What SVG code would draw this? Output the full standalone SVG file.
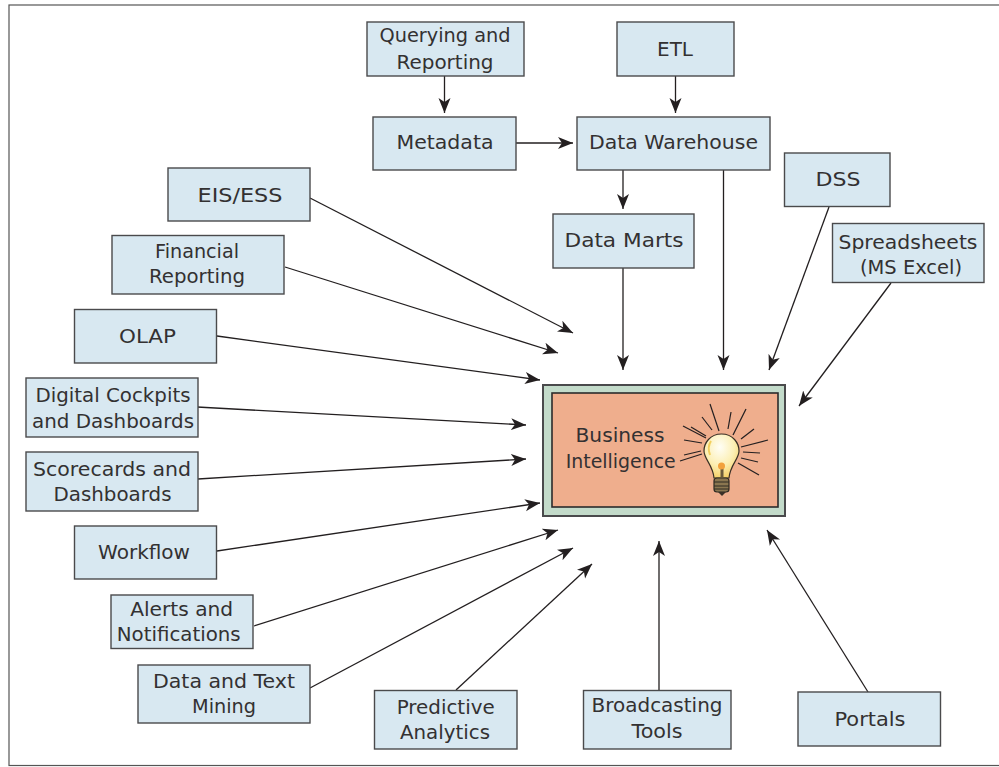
<svg xmlns="http://www.w3.org/2000/svg" width="999" height="767" viewBox="0 0 999 767">
<defs>
<marker id="a" markerUnits="userSpaceOnUse" markerWidth="16" markerHeight="14" refX="15" refY="7" orient="auto"><path d="M0 1L15 7L0 13L4 7Z" fill="#231f20"/></marker>
<radialGradient id="b" cx="0.45" cy="0.3" r="0.75"><stop offset="0" stop-color="#fffef6"/><stop offset="0.55" stop-color="#fcefb4"/><stop offset="1" stop-color="#f4cc5c"/></radialGradient>
</defs>
<style>
.n{fill:#d8e8f1;stroke:#4a4a4c;stroke-width:1.4}
text{font-family:"DejaVu Sans",sans-serif;font-size:20px;fill:#333132;text-anchor:middle}
.c line{stroke:#231f20;stroke-width:1.3;marker-end:url(#a)}
.r line{stroke:#231f20;stroke-width:1.2}
</style>
<rect x="9" y="5" width="996" height="760.500" fill="#fff" stroke="#555" stroke-width="1.2"/>
<g id="connectors" class="c">
<line x1="444.500" y1="76" x2="444.500" y2="113"/>
<line x1="675.500" y1="76" x2="675.500" y2="113"/>
<line x1="516" y1="143" x2="573" y2="143"/>
<line x1="623" y1="170" x2="623" y2="209"/>
<line x1="623" y1="268" x2="623" y2="370"/>
<line x1="723.500" y1="170" x2="723.500" y2="370"/>
<line x1="829" y1="207" x2="769" y2="370"/>
<line x1="891" y1="283" x2="799" y2="406"/>
<line x1="310" y1="198" x2="573" y2="333"/>
<line x1="285" y1="267" x2="558" y2="353"/>
<line x1="217" y1="336" x2="540" y2="380"/>
<line x1="197" y1="407" x2="526" y2="425"/>
<line x1="198" y1="479" x2="526" y2="459"/>
<line x1="217" y1="551" x2="540" y2="503"/>
<line x1="254" y1="626" x2="558" y2="530"/>
<line x1="310" y1="688" x2="573" y2="548"/>
<line x1="456" y1="690" x2="592" y2="564"/>
<line x1="659" y1="690" x2="659" y2="541"/>
<line x1="868" y1="692" x2="767" y2="530"/>
</g>
<g id="querying"><rect class="n" x="367" y="22" width="157" height="54"/><text x="445" y="42" textLength="131" lengthAdjust="spacingAndGlyphs">Querying and</text><text x="445" y="69" textLength="97" lengthAdjust="spacingAndGlyphs">Reporting</text></g>
<g id="etl"><rect class="n" x="617" y="22" width="117" height="54"/><text x="675" y="56" textLength="36" lengthAdjust="spacingAndGlyphs">ETL</text></g>
<g id="metadata"><rect class="n" x="373" y="117" width="143" height="53"/><text x="445" y="149" textLength="97" lengthAdjust="spacingAndGlyphs">Metadata</text></g>
<g id="warehouse"><rect class="n" x="577" y="117" width="193" height="53"/><text x="673.500" y="149" textLength="169" lengthAdjust="spacingAndGlyphs">Data Warehouse</text></g>
<g id="marts"><rect class="n" x="553" y="214" width="141" height="54"/><text x="624" y="247" textLength="119" lengthAdjust="spacingAndGlyphs">Data Marts</text></g>
<g id="dss"><rect class="n" x="784.500" y="153" width="105.500" height="53.500"/><text x="838" y="186" textLength="45" lengthAdjust="spacingAndGlyphs">DSS</text></g>
<g id="spreadsheets"><rect class="n" x="832.500" y="223.500" width="151.500" height="59"/><text x="908" y="249" textLength="139" lengthAdjust="spacingAndGlyphs">Spreadsheets</text><text x="911" y="274" textLength="102" lengthAdjust="spacingAndGlyphs">(MS Excel)</text></g>
<g id="eis"><rect class="n" x="168" y="168" width="142" height="53"/><text x="240" y="201.500" textLength="85" lengthAdjust="spacingAndGlyphs">EIS/ESS</text></g>
<g id="financial"><rect class="n" x="112" y="235.500" width="172" height="58.500"/><text x="197" y="258" textLength="84" lengthAdjust="spacingAndGlyphs">Financial</text><text x="197" y="283" textLength="96" lengthAdjust="spacingAndGlyphs">Reporting</text></g>
<g id="olap"><rect class="n" x="74.500" y="309.500" width="142" height="53.500"/><text x="147.500" y="343" textLength="57" lengthAdjust="spacingAndGlyphs">OLAP</text></g>
<g id="cockpits"><rect class="n" x="26" y="378" width="172" height="59"/><text x="113" y="402" textLength="155" lengthAdjust="spacingAndGlyphs">Digital Cockpits</text><text x="113" y="428" textLength="162" lengthAdjust="spacingAndGlyphs">and Dashboards</text></g>
<g id="scorecards"><rect class="n" x="26" y="452" width="172" height="59"/><text x="112" y="476" textLength="158" lengthAdjust="spacingAndGlyphs">Scorecards and</text><text x="112.500" y="501" textLength="118" lengthAdjust="spacingAndGlyphs">Dashboards</text></g>
<g id="workflow"><rect class="n" x="74.500" y="526" width="142" height="53"/><text x="144" y="559" textLength="92" lengthAdjust="spacingAndGlyphs">Workflow</text></g>
<g id="alerts"><rect class="n" x="111" y="595" width="142" height="53.500"/><text x="181.700" y="616" textLength="103" lengthAdjust="spacingAndGlyphs">Alerts and</text><text x="178.700" y="641" textLength="124" lengthAdjust="spacingAndGlyphs">Notifications</text></g>
<g id="mining"><rect class="n" x="138" y="665" width="172" height="58"/><text x="224" y="688" textLength="142" lengthAdjust="spacingAndGlyphs">Data and Text</text><text x="224" y="713" textLength="64" lengthAdjust="spacingAndGlyphs">Mining</text></g>
<g id="predictive"><rect class="n" x="374.500" y="690.500" width="142.500" height="58.500"/><text x="445.700" y="714" textLength="98" lengthAdjust="spacingAndGlyphs">Predictive</text><text x="445" y="739" textLength="90" lengthAdjust="spacingAndGlyphs">Analytics</text></g>
<g id="broadcasting"><rect class="n" x="583.500" y="690.500" width="147.500" height="58.500"/><text x="657" y="712" textLength="131" lengthAdjust="spacingAndGlyphs">Broadcasting</text><text x="657" y="738" textLength="51" lengthAdjust="spacingAndGlyphs">Tools</text></g>
<g id="portals"><rect class="n" x="798" y="692" width="142.500" height="54"/><text x="870" y="726" textLength="71" lengthAdjust="spacingAndGlyphs">Portals</text></g>
<g id="bi">
<rect x="543" y="385" width="242" height="131" fill="#c3dbca" stroke="#4a4a4c" stroke-width="2"/>
<rect x="552" y="393" width="226" height="114" fill="#efae8d" stroke="#2b2b2b" stroke-width="1.6"/>
<text x="620" y="442" textLength="89" lengthAdjust="spacingAndGlyphs">Business</text><text x="620.700" y="468" textLength="110" lengthAdjust="spacingAndGlyphs">Intelligence</text>
<g class="r">
<line x1="683" y1="426" x2="706" y2="438"/><line x1="691" y1="427" x2="706" y2="436"/><line x1="684" y1="440" x2="702" y2="443"/><line x1="684" y1="455" x2="701" y2="451"/><line x1="680" y1="461" x2="702" y2="454"/>
<line x1="702" y1="417" x2="712" y2="430"/><line x1="710" y1="404" x2="719" y2="431"/><line x1="731" y1="412" x2="728" y2="429"/><line x1="746" y1="409" x2="733" y2="435"/><line x1="754" y1="429" x2="741" y2="439"/><line x1="768" y1="440" x2="741" y2="447"/><line x1="760" y1="453" x2="743" y2="452"/><line x1="758" y1="462" x2="741" y2="458"/><line x1="759" y1="475" x2="738" y2="463"/>
</g>
<path d="M721.500 434C710 434 704 443 704 451C704 459 713 465 714 478L729 478C730 465 739 459 739 451C739 443 733 434 721.500 434Z" fill="url(#b)" stroke="#3a3026" stroke-width="1.2"/>
<path d="M710 455Q707 447 711 441" stroke="#f2cf5e" stroke-width="2" fill="none"/>
<path d="M722 477V468" stroke="#6b5a3a" stroke-width="3" fill="none"/>
<circle cx="721.500" cy="466" r="3.500" fill="#f2a13c"/>
<rect x="714" y="478" width="15" height="14" rx="3" fill="#8a7650" stroke="#2e2a22" stroke-width="1.2"/>
<path d="M714 482H729M714 486H729M714 489H729" stroke="#2e2a22" stroke-width="1.2"/>
<path d="M718 492H726L722 496Z" fill="#3a3026"/>
</g>
</svg>
